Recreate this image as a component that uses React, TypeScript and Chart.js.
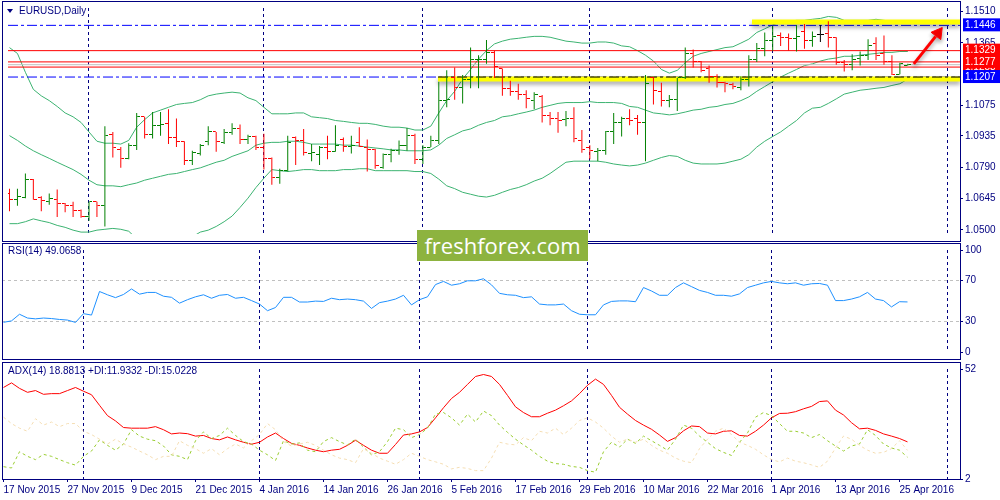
import React, { useEffect, useRef } from 'react';
import { Chart, registerables } from 'chart.js';

Chart.register(...registerables);

// Bottom date labels, one every 8 bars
const tickLabels = ['17 Nov 2015', '27 Nov 2015', '9 Dec 2015', '21 Dec 2015', '4 Jan 2016', '14 Jan 2016', '26 Jan 2016', '5 Feb 2016', '17 Feb 2016', '29 Feb 2016', '10 Mar 2016', '22 Mar 2016', '1 Apr 2016', '13 Apr 2016', '25 Apr 2016'];
// bar index of the first bar of each month (period separators)
const monthStarts = [10, 32, 52, 73, 96, 118];

// EURUSD daily OHLC
const opens = [1.0669, 1.0639, 1.0652, 1.0735, 1.0652, 1.0630, 1.0643, 1.0621, 1.0612, 1.0591,
  1.0560, 1.0630, 1.0612, 1.0940, 1.0870, 1.0831, 1.0892, 1.1023, 1.0940, 1.0984,
  1.0993, 1.0927, 1.0910, 1.0822, 1.0853, 1.0910, 1.0953, 1.0905, 1.0949, 1.0967,
  1.0918, 1.0932, 1.0879, 1.0831, 1.0744, 1.0774, 1.0927, 1.0914, 1.0853, 1.0848,
  1.0879, 1.0862, 1.0918, 1.0888, 1.0905, 1.0879, 1.0870, 1.0788, 1.0848, 1.0866,
  1.0892, 1.0936, 1.0827, 1.0883, 1.0914, 1.1098, 1.1203, 1.1159, 1.1194, 1.1286,
  1.1286, 1.1321, 1.1246, 1.1155, 1.1141, 1.1124, 1.1098, 1.1115, 1.1028, 1.1015,
  1.1010, 1.1015, 1.0914, 1.0879, 1.0862, 1.0866, 1.0953, 1.0997, 1.1015, 1.1015,
  1.0997, 1.1203, 1.1141, 1.1098, 1.1102, 1.1207, 1.1316, 1.1277, 1.1246, 1.1211,
  1.1181, 1.1172, 1.1159, 1.1194, 1.1290, 1.1338, 1.1378, 1.1399, 1.1391, 1.1386,
  1.1417, 1.1378, 1.1404, 1.1408, 1.1391, 1.1273, 1.1264, 1.1295, 1.1308, 1.1360,
  1.1316, 1.1281, 1.1220, 1.1262];
const highs = [1.0691, 1.0691, 1.0761, 1.0735, 1.0656, 1.0669, 1.0687, 1.0625, 1.0630, 1.0595,
  1.0630, 1.0630, 1.0980, 1.0953, 1.0883, 1.0901, 1.1041, 1.1023, 1.1045, 1.1045,
  1.1058, 1.1015, 1.0910, 1.0866, 1.0897, 1.0980, 1.0953, 1.0967, 1.0993, 1.0988,
  1.0940, 1.0936, 1.0945, 1.0835, 1.0783, 1.0936, 1.0932, 1.0967, 1.0897, 1.0888,
  1.0936, 1.0984, 1.0927, 1.0936, 1.0975, 1.0918, 1.0875, 1.0853, 1.0875, 1.0914,
  1.0971, 1.0945, 1.0892, 1.0936, 1.1185, 1.1238, 1.1251, 1.1216, 1.1343, 1.1308,
  1.1378, 1.1329, 1.1246, 1.1190, 1.1176, 1.1146, 1.1137, 1.1124, 1.1045, 1.1045,
  1.1050, 1.1067, 1.0962, 1.0892, 1.0879, 1.0958, 1.1041, 1.1023, 1.1058, 1.1032,
  1.1216, 1.1207, 1.1181, 1.1124, 1.1203, 1.1343, 1.1334, 1.1281, 1.1260, 1.1220,
  1.1185, 1.1181, 1.1211, 1.1308, 1.1364, 1.1413, 1.1443, 1.1413, 1.1408, 1.1448,
  1.1452, 1.1417, 1.1448, 1.1465, 1.1391, 1.1286, 1.1312, 1.1325, 1.1382, 1.1391,
  1.1399, 1.1308, 1.1273, 1.1268];
const lows = [1.0586, 1.0612, 1.0647, 1.0639, 1.0586, 1.0617, 1.0560, 1.0582, 1.0560, 1.0556,
  1.0542, 1.0560, 1.0516, 1.0835, 1.0787, 1.0827, 1.0870, 1.0923, 1.0923, 1.0936,
  1.0897, 1.0883, 1.0800, 1.0800, 1.0844, 1.0892, 1.0862, 1.0897, 1.0940, 1.0897,
  1.0897, 1.0870, 1.0779, 1.0709, 1.0713, 1.0770, 1.0800, 1.0844, 1.0818, 1.0800,
  1.0827, 1.0862, 1.0862, 1.0853, 1.0883, 1.0770, 1.0783, 1.0783, 1.0813, 1.0848,
  1.0866, 1.0805, 1.0805, 1.0883, 1.0897, 1.1067, 1.1102, 1.1085, 1.1155, 1.1155,
  1.1268, 1.1203, 1.1120, 1.1120, 1.1102, 1.1063, 1.1058, 1.0997, 1.0984, 1.0949,
  1.0980, 1.0905, 1.0857, 1.0827, 1.0818, 1.0848, 1.0897, 1.0932, 1.0984, 1.0940,
  1.0818, 1.1080, 1.1071, 1.1067, 1.1050, 1.1198, 1.1251, 1.1229, 1.1181, 1.1159,
  1.1137, 1.1150, 1.1146, 1.1163, 1.1277, 1.1303, 1.1329, 1.1351, 1.1329, 1.1325,
  1.1338, 1.1347, 1.1369, 1.1343, 1.1264, 1.1233, 1.1238, 1.1260, 1.1286, 1.1286,
  1.1264, 1.1216, 1.1220, 1.1260];
const closes = [1.0639, 1.0656, 1.0735, 1.0643, 1.0634, 1.0647, 1.0621, 1.0612, 1.0591, 1.0560,
  1.0630, 1.0612, 1.0936, 1.0879, 1.0831, 1.0892, 1.1023, 1.0940, 1.0984, 1.0988,
  1.0927, 1.0910, 1.0822, 1.0857, 1.0892, 1.0953, 1.0910, 1.0949, 1.0967, 1.0918,
  1.0932, 1.0879, 1.0831, 1.0744, 1.0774, 1.0905, 1.0914, 1.0857, 1.0857, 1.0879,
  1.0862, 1.0892, 1.0888, 1.0892, 1.0888, 1.0870, 1.0796, 1.0848, 1.0866, 1.0892,
  1.0936, 1.0827, 1.0883, 1.0914, 1.1098, 1.1102, 1.1159, 1.1194, 1.1286, 1.1290,
  1.1321, 1.1255, 1.1155, 1.1141, 1.1124, 1.1106, 1.1124, 1.1028, 1.1015, 1.1006,
  1.1015, 1.0923, 1.0870, 1.0866, 1.0866, 1.0953, 1.0997, 1.1015, 1.1006, 1.0997,
  1.1176, 1.1146, 1.1098, 1.1102, 1.1207, 1.1316, 1.1277, 1.1238, 1.1211, 1.1181,
  1.1176, 1.1163, 1.1194, 1.1290, 1.1338, 1.1378, 1.1395, 1.1391, 1.1386, 1.1395,
  1.1378, 1.1395, 1.1404, 1.1391, 1.1273, 1.1264, 1.1286, 1.1308, 1.1351, 1.1308,
  1.1281, 1.1220, 1.1268, 1.1265];

// Bollinger bands (20)
const bbUpper = [1.1343, 1.1316, 1.1229, 1.1150, 1.1120, 1.1098, 1.1071, 1.1041, 1.1023, 1.0997,
  1.0953, 1.0910, 1.0901, 1.0901, 1.0897, 1.0914, 1.0975, 1.1010, 1.1041, 1.1054,
  1.1067, 1.1080, 1.1085, 1.1089, 1.1102, 1.1120, 1.1128, 1.1133, 1.1137, 1.1133,
  1.1111, 1.1098, 1.1067, 1.1037, 1.1037, 1.1037, 1.1041, 1.1041, 1.1023, 1.1019,
  1.1015, 1.1006, 1.1002, 1.0997, 1.0993, 1.0993, 1.0988, 1.0980, 1.0975, 1.0975,
  1.0971, 1.0962, 1.0962, 1.0980, 1.1041, 1.1098, 1.1141, 1.1198, 1.1242, 1.1290,
  1.1329, 1.1360, 1.1373, 1.1382, 1.1386, 1.1391, 1.1395, 1.1395, 1.1391, 1.1382,
  1.1373, 1.1369, 1.1364, 1.1364, 1.1369, 1.1369, 1.1364, 1.1351, 1.1347, 1.1329,
  1.1308, 1.1281, 1.1242, 1.1225, 1.1238, 1.1273, 1.1303, 1.1316, 1.1325, 1.1334,
  1.1343, 1.1347, 1.1364, 1.1382, 1.1413, 1.1430, 1.1448, 1.1461, 1.1465, 1.1469,
  1.1469, 1.1474, 1.1478, 1.1487, 1.1483, 1.1469, 1.1469, 1.1469, 1.1469, 1.1474,
  1.1469, 1.1465, 1.1461, 1.1456];
const bbMiddle = [1.0936, 1.0914, 1.0888, 1.0866, 1.0848, 1.0831, 1.0813, 1.0796, 1.0779, 1.0757,
  1.0730, 1.0709, 1.0704, 1.0704, 1.0700, 1.0709, 1.0717, 1.0730, 1.0739, 1.0748,
  1.0757, 1.0761, 1.0770, 1.0779, 1.0787, 1.0800, 1.0813, 1.0822, 1.0840, 1.0853,
  1.0866, 1.0892, 1.0901, 1.0905, 1.0905, 1.0910, 1.0910, 1.0905, 1.0897, 1.0897,
  1.0897, 1.0897, 1.0892, 1.0892, 1.0888, 1.0883, 1.0879, 1.0875, 1.0870, 1.0870,
  1.0866, 1.0866, 1.0866, 1.0870, 1.0892, 1.0923, 1.0940, 1.0958, 1.0967, 1.0984,
  1.0997, 1.1006, 1.1023, 1.1028, 1.1037, 1.1045, 1.1054, 1.1067, 1.1076, 1.1085,
  1.1089, 1.1089, 1.1089, 1.1093, 1.1089, 1.1089, 1.1089, 1.1085, 1.1071, 1.1067,
  1.1054, 1.1041, 1.1037, 1.1032, 1.1037, 1.1045, 1.1054, 1.1058, 1.1067, 1.1071,
  1.1080, 1.1085, 1.1098, 1.1115, 1.1141, 1.1163, 1.1185, 1.1207, 1.1225, 1.1242,
  1.1260, 1.1268, 1.1281, 1.1290, 1.1295, 1.1303, 1.1303, 1.1308, 1.1312, 1.1316,
  1.1321, 1.1321, 1.1325, 1.1325];
const bbLower = [1.0529, 1.0529, 1.0538, 1.0551, 1.0542, 1.0534, 1.0521, 1.0512, 1.0499, 1.0490,
  1.0490, 1.0499, 1.0503, 1.0507, 1.0503, 1.0494, 1.0459, 1.0451, 1.0437, 1.0442,
  1.0446, 1.0442, 1.0455, 1.0468, 1.0490, 1.0499, 1.0516, 1.0538, 1.0564, 1.0604,
  1.0647, 1.0696, 1.0739, 1.0779, 1.0774, 1.0770, 1.0774, 1.0779, 1.0779, 1.0774,
  1.0774, 1.0774, 1.0779, 1.0779, 1.0783, 1.0783, 1.0774, 1.0774, 1.0774, 1.0774,
  1.0774, 1.0770, 1.0770, 1.0761, 1.0735, 1.0704, 1.0691, 1.0674, 1.0665, 1.0656,
  1.0652, 1.0660, 1.0674, 1.0687, 1.0696, 1.0709, 1.0726, 1.0739, 1.0761, 1.0787,
  1.0813, 1.0818, 1.0818, 1.0818, 1.0818, 1.0813, 1.0805, 1.0800, 1.0796, 1.0800,
  1.0809, 1.0822, 1.0835, 1.0844, 1.0840, 1.0822, 1.0809, 1.0805, 1.0805, 1.0805,
  1.0809, 1.0818, 1.0827, 1.0848, 1.0883, 1.0910, 1.0932, 1.0953, 1.0980, 1.1006,
  1.1041, 1.1063, 1.1067, 1.1085, 1.1106, 1.1128, 1.1137, 1.1146, 1.1150, 1.1155,
  1.1159, 1.1168, 1.1176, 1.1198];

// RSI(14)
const rsi = [29.1, 30.5, 37.0, 33.3, 32.5, 33.3, 32.8, 31.9, 31.3, 29.0,
  37.6, 36.2, 59.3, 56.1, 53.3, 56.4, 61.8, 56.7, 58.4, 58.4,
  54.7, 53.6, 47.9, 51.3, 54.1, 56.1, 52.7, 55.6, 56.4, 52.7,
  53.6, 50.4, 47.0, 40.5, 43.6, 53.6, 53.6, 49.0, 49.0, 49.9,
  49.6, 52.7, 51.3, 51.9, 51.3, 49.9, 42.7, 48.4, 49.9, 51.9,
  55.6, 46.2, 51.3, 54.1, 66.1, 69.2, 65.5, 66.9, 69.8, 69.8,
  71.8, 65.8, 57.5, 56.1, 55.6, 53.3, 54.1, 47.0, 46.2, 46.2,
  47.0, 40.5, 37.0, 36.5, 36.5, 46.2, 49.6, 50.1, 50.1, 49.3,
  63.2, 59.8, 55.6, 55.6, 63.2, 67.8, 64.1, 60.4, 58.4, 55.6,
  55.6, 54.7, 57.0, 63.2, 65.5, 67.8, 69.2, 67.8, 66.9, 67.8,
  65.5, 66.9, 67.2, 65.5, 50.4, 50.4, 51.9, 54.1, 58.4, 51.9,
  50.4, 44.2, 49.3, 49.07];

// ADX(14), +DI, -DI
const adx = [43.6, 45.7, 43.2, 41.4, 42.2, 40.5, 40.8, 40.8, 42.2, 43.6,
  41.9, 40.3, 35.5, 30.8, 28.4, 25.4, 25.1, 25.1, 25.1, 25.8,
  24.4, 22.5, 22.9, 22.6, 21.5, 21.8, 20.4, 19.8, 21.1, 19.8,
  18.7, 17.8, 18.7, 21.1, 22.9, 20.4, 18.2, 17.3, 16.1, 15.1,
  14.4, 15.1, 15.5, 17.3, 19.6, 17.3, 15.1, 13.7, 13.7, 17.7,
  22.0, 22.5, 23.4, 25.4, 29.8, 34.4, 38.6, 41.4, 45.0, 48.6,
  49.5, 48.6, 45.0, 40.0, 34.8, 32.2, 30.3, 30.3, 31.9, 33.3,
  35.3, 37.5, 40.8, 44.6, 47.4, 45.0, 40.0, 34.6, 31.5, 28.6,
  26.5, 24.6, 22.0, 19.1, 20.8, 23.9, 26.1, 25.8, 22.9, 22.5,
  23.7, 23.9, 21.8, 21.5, 23.7, 26.5, 29.8, 31.8, 31.9, 32.6,
  33.9, 35.0, 37.2, 37.5, 33.3, 31.1, 27.6, 24.8, 25.1, 24.1,
  22.5, 21.5, 20.4, 18.88];
const plusDi = [7.6, 7.0, 14.4, 12.3, 10.8, 13.2, 12.3, 10.8, 9.4, 8.3,
  12.3, 14.7, 19.8, 17.3, 15.1, 17.9, 24.4, 21.5, 20.1, 19.4,
  17.0, 13.0, 12.3, 10.8, 19.4, 23.4, 20.4, 21.8, 25.1, 21.8,
  19.0, 17.9, 15.1, 13.0, 10.4, 19.4, 17.9, 18.4, 15.1, 14.4,
  19.0, 20.8, 19.0, 17.5, 20.1, 16.5, 13.0, 14.4, 19.0, 25.1,
  24.4, 20.8, 22.2, 25.1, 31.5, 32.2, 29.8, 26.5, 31.5, 27.9,
  32.9, 30.8, 26.5, 23.2, 20.1, 17.5, 15.1, 12.3, 10.1, 9.0,
  8.7, 7.7, 7.3, 5.8, 5.1, 14.4, 18.7, 16.5, 20.1, 18.2,
  21.5, 19.4, 17.3, 15.1, 20.1, 26.5, 25.1, 21.5, 18.7, 15.8,
  14.1, 12.7, 18.7, 22.9, 30.1, 32.2, 30.8, 27.2, 23.7, 23.7,
  22.9, 20.8, 22.2, 19.4, 17.0, 14.7, 17.0, 17.9, 24.4, 21.8,
  17.9, 16.1, 15.1, 11.93];
const minusDi = [30.1, 27.2, 25.1, 23.7, 29.4, 26.5, 27.9, 25.8, 27.2, 27.2,
  23.7, 22.2, 20.1, 17.9, 20.1, 17.9, 16.5, 14.7, 13.0, 10.8,
  12.3, 12.3, 19.4, 17.3, 15.8, 13.7, 15.8, 13.0, 15.8, 17.9,
  16.1, 19.4, 22.2, 27.2, 24.4, 19.0, 17.0, 17.9, 18.7, 17.3,
  15.1, 13.0, 11.5, 10.8, 9.4, 15.8, 13.7, 11.5, 10.1, 8.7,
  10.8, 13.7, 12.3, 10.8, 9.8, 8.7, 6.6, 7.3, 6.8, 5.8,
  5.8, 11.5, 18.7, 17.9, 17.5, 20.8, 19.4, 23.7, 22.9, 25.1,
  22.2, 25.1, 28.6, 29.8, 27.9, 25.1, 21.5, 18.7, 20.1, 18.7,
  20.1, 17.3, 15.1, 13.7, 11.5, 10.1, 9.4, 15.8, 20.1, 23.7,
  25.1, 22.2, 18.7, 17.3, 15.5, 13.0, 10.8, 9.8, 11.5, 10.1,
  9.4, 8.4, 7.3, 10.1, 16.1, 21.5, 20.1, 17.3, 15.1, 13.7,
  14.1, 15.8, 19.4, 15.02];

// price axis
const priceTicks = [1.05, 1.0645, 1.079, 1.0935, 1.1075, 1.1365, 1.151];
const blueLevels = [1.1446, 1.1207];
const redLevels = [1.1329, 1.1277, 1.1253];
const tagOrder = [1.1446, 1.1329, 1.1253, 1.1277, 1.1207];
const bidPrice = 1.1264;
// drawn yellow lines: first bar index and price
const yellowFrom = [93.4, 53.9];
const yellowPrice = [1.1461, 1.1198];
// drawn arrow: tail, neck, tip (bar index, price)
const arrowPath = [{ x: 113.75, y: 1.1268 }, { x: 116.5, y: 1.1395 }];
const arrowHead = [{ x: 116.8, y: 1.1410 }];
const rsiTicks = [0, 30, 70, 100];
const rsiLevels = [30, 70];
const adxTicks = [2, 52];

const NAVY = '#000080';
const UP = '#008000';
const DOWN = '#FF0000';
const DOJI = '#000000';
const BAND = '#3CB371';
const FONT = { family: "'Liberation Sans', Arial, sans-serif", size: 10 };
const X_MIN = -0.1875;
const X_MAX = X_MIN + 958 / 8;

const xy = (arr: number[]) => arr.map((y, x) => ({ x, y }));
const flat = (v: number, from = X_MIN) => [{ x: from, y: v }, { x: X_MAX, y: v }];
const line = (data: any[], color: string, extra: any = {}) => ({
    type: 'line', data, borderColor: color, borderWidth: 1, pointRadius: 0, tension: 0, ...extra,
});
const barColor = (i: number) => (closes[i] > opens[i] ? UP : closes[i] < opens[i] ? DOWN : DOJI);

// small images used as open/close ticks of the OHLC bars
function tickImage(color: string, left: boolean) {
    const c = document.createElement('canvas');
    c.width = 7;
    c.height = 1;
    const g = c.getContext('2d')!;
    g.fillStyle = color;
    g.fillRect(left ? 0 : 4, 0, 3, 1);
    return c;
}

const shadowPlugin = {
    id: 'shadow',
    beforeDatasetDraw(chart: any, args: any) {
        if (!chart.data.datasets[args.index].shadow) return;
        const ctx = chart.ctx;
        ctx.save();
        ctx.shadowColor = 'rgba(0,0,0,0.35)';
        ctx.shadowBlur = 4;
        ctx.shadowOffsetY = 3;
    },
    afterDatasetDraw(chart: any, args: any) {
        if (!chart.data.datasets[args.index].shadow) return;
        chart.ctx.restore();
    },
};

// x axis that only draws the month separators
const sepAxis = () => ({
    type: 'linear', axis: 'x', position: 'bottom', min: X_MIN, max: X_MAX, offset: false,
    afterBuildTicks: (s: any) => { s.ticks = monthStarts.map(value => ({ value })); },
    afterFit: (s: any) => { s.height = 0; },
    ticks: { display: false },
    grid: { color: NAVY, drawTicks: false, offset: false },
    border: { display: false, dash: [3, 3] },
});

const rightAxis = (min: number, max: number, values: number[], extra: any = {}) => ({
    type: 'linear', position: 'right', min, max,
    afterBuildTicks: (s: any) => { s.ticks = values.map(value => ({ value })); },
    afterFit: (s: any) => { s.width = 40; },
    ticks: { autoSkip: false, padding: 2, color: NAVY, font: FONT, ...extra.ticks },
    grid: { drawOnChartArea: false, tickLength: 3, tickColor: NAVY, ...extra.grid },
    border: { display: false, dash: [3, 3] },
});

const baseOptions = (padding: any, scales: any) => ({
    responsive: false,
    animation: false,
    events: [],
    layout: { padding },
    plugins: { legend: { display: false }, tooltip: { enabled: false } },
    scales,
});

function mainConfig() {
    const imgs: any = {};
    [UP, DOWN, DOJI].forEach(c => { imgs[c] = { open: tickImage(c, true), close: tickImage(c, false) }; });
    const isTag = (v: number) => tagOrder.includes(v);
    return {
        type: 'line',
        data: {
            datasets: [
                line(xy(bbUpper), BAND, { order: 10 }),
                line(xy(bbMiddle), BAND, { order: 10 }),
                line(xy(bbLower), BAND, { order: 10 }),
                ...blueLevels.map(v => line(flat(v), '#0000FF', { borderDash: [10, 3, 3, 3], order: 9 })),
                ...redLevels.map(v => line(flat(v), '#FF0000', { order: 9 })),
                line(flat(bidPrice), '#C0C0C0', { order: 9 }),
                ...yellowPrice.map((v, k) => line(flat(v, yellowFrom[k]), '#FFFF00', { borderWidth: 5, order: 3, shadow: true })),
                line(flat(blueLevels[1], yellowFrom[1]), '#000000', { borderDash: [10, 3, 3, 3], order: 2 }),
                {
                    type: 'bar',
                    data: highs.map((h, i) => ({ x: i, y: [lows[i], h] })),
                    backgroundColor: (c: any) => barColor(c.dataIndex),
                    barThickness: 1,
                    borderWidth: 0,
                    inflateAmount: 0,
                    order: 1,
                },
                { type: 'scatter', data: xy(opens), pointStyle: (c: any) => imgs[barColor(c.dataIndex)].open, pointRadius: 1, order: 0 },
                { type: 'scatter', data: xy(closes), pointStyle: (c: any) => imgs[barColor(c.dataIndex)].close, pointRadius: 1, order: 0 },
                line(arrowPath, '#FF0000', { borderWidth: 3, order: -1, shadow: true }),
                {
                    type: 'scatter', data: arrowHead, pointStyle: 'triangle', rotation: 37, pointRadius: 7,
                    backgroundColor: '#FF0000', borderColor: '#FF0000', order: -1, shadow: true,
                },
            ],
        },
        options: baseOptions({ left: 2, top: 2, right: 0, bottom: 1 }, {
            x: sepAxis(),
            y: rightAxis(1.04812, 1.15262, priceTicks.concat(tagOrder), {
                ticks: {
                    callback: (v: any) => Number(v).toFixed(4),
                    color: (c: any) => (isTag(c.tick.value) ? '#FFFFFF' : NAVY),
                    showLabelBackdrop: (c: any) => isTag(c.tick.value),
                    backdropColor: (c: any) => (blueLevels.includes(c.tick.value) ? '#0000FF' : '#FF0000'),
                    backdropPadding: { left: 2, right: 5, top: 1, bottom: 0 },
                },
                grid: { tickColor: (c: any) => (isTag(c.tick.value) ? 'rgba(0,0,0,0)' : NAVY) },
            }),
        }),
        plugins: [shadowPlugin],
    };
}

function rsiConfig() {
    return {
        type: 'line',
        data: { datasets: [line(xy(rsi), '#1E90FF')] },
        options: baseOptions({ left: 2, top: 2, right: 0, bottom: 1 }, {
            x: sepAxis(),
            y: rightAxis(0, 100, rsiTicks, {
                grid: {
                    drawOnChartArea: true,
                    color: (c: any) => (rsiLevels.includes(c.tick.value) ? '#C0C0C0' : 'rgba(0,0,0,0)'),
                },
            }),
        }),
    };
}

function adxConfig() {
    return {
        type: 'line',
        data: {
            datasets: [
                line(xy(minusDi), '#F5DEB3', { borderDash: [3, 3] }),
                line(xy(plusDi), '#9ACD32', { borderDash: [3, 3] }),
                line(xy(adx), '#FF0000'),
            ],
        },
        options: baseOptions({ left: 2, top: 2, right: 0, bottom: 0 }, {
            sep: sepAxis(),
            x: {
                type: 'linear', axis: 'x', position: 'bottom', min: X_MIN, max: X_MAX, offset: false,
                afterBuildTicks: (s: any) => { s.ticks = tickLabels.map((_, k) => ({ value: k * 8 })); },
                afterFit: (s: any) => { s.height = 21; },
                ticks: {
                    autoSkip: false, maxRotation: 0, align: 'start', padding: 2, color: NAVY, font: FONT,
                    callback: (v: any) => tickLabels[Math.round(Number(v) / 8)],
                },
                grid: { drawOnChartArea: false, tickLength: 3, tickColor: NAVY, offset: false },
                border: { display: false },
            },
            y: rightAxis(2, 52, adxTicks),
        }),
    };
}

const Panel: React.FC<{ top: number; height: number; make: () => any }> = ({ top, height, make }) => {
    const ref = useRef<HTMLCanvasElement>(null);
    useEffect(() => {
        if (!ref.current) return;
        const chart = new Chart(ref.current, make());
        return () => chart.destroy();
    }, []);
    return (
        <canvas ref={ref} width={1000} height={height}
            style={{ position: 'absolute', left: 0, top, width: 1000, height }} />
    );
};

const frame = (top: number, height: number): React.CSSProperties => ({
    position: 'absolute', left: 2, top, width: 959, height, boxSizing: 'border-box',
    border: `1px solid ${NAVY}`, pointerEvents: 'none',
});

const labelStyle = (top: number): React.CSSProperties => ({
    position: 'absolute', left: 8, top, font: "10px 'Liberation Sans', Arial, sans-serif",
    color: NAVY, whiteSpace: 'nowrap',
});

export default function App() {
    return (
        <div style={{ position: 'fixed', left: 0, top: 0, width: 1000, height: 500, background: '#fff', overflow: 'hidden' }}>
            <Panel top={0} height={242} make={mainConfig} />
            <Panel top={242} height={118} make={rsiConfig} />
            <Panel top={361} height={139} make={adxConfig} />
            <div style={frame(1, 241)} />
            <div style={frame(243, 117)} />
            <div style={frame(362, 118)} />
            <div style={{
                position: 'absolute', left: 7, top: 9, width: 0, height: 0,
                borderLeft: '3px solid transparent', borderRight: '3px solid transparent', borderTop: `4px solid ${NAVY}`,
            }} />
            <div style={{ ...labelStyle(5), left: 19 }}>EURUSD,Daily</div>
            <div style={labelStyle(245)}>RSI(14) 49.0658</div>
            <div style={labelStyle(365)}>ADX(14) 18.8813 +DI:11.9332 -DI:15.0228</div>
            <div style={{
                position: 'absolute', left: 417, top: 230, width: 171, height: 31, background: '#8DB33F',
                color: '#fff', font: "22px 'Open Sans', sans-serif", lineHeight: '30px', textAlign: 'center',
            }}>freshforex.com</div>
        </div>
    );
}
